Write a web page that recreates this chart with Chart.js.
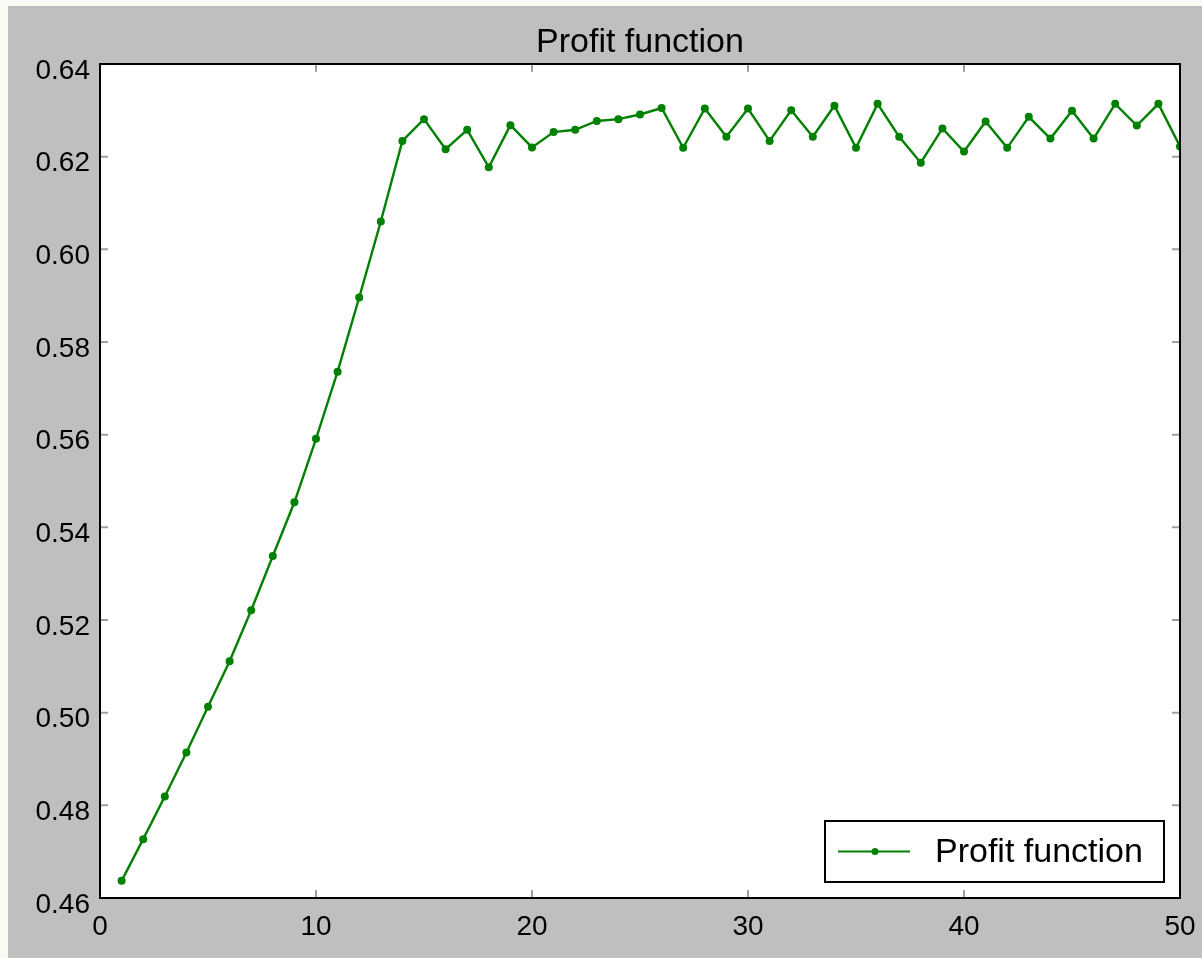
<!DOCTYPE html>
<html>
<head>
<meta charset="utf-8">
<script src="https://cdn.jsdelivr.net/npm/chart.js@4.4.1/dist/chart.umd.min.js"></script>
<style>
  body { margin: 0; background: #fafaf5; }
  #grafico { position: absolute; left: 8px; top: 6px; background: #bfbfbf; }
</style>
</head>
<body>
<canvas id="grafico" width="1194" height="952"></canvas>
<script>
// datos
const titulo = "Profit function"
const iteraciones = [1, 2, 3, 4, 5, 6, 7, 8, 9, 10, 11, 12, 13, 14, 15, 16, 17, 18, 19, 20,
    21, 22, 23, 24, 25, 26, 27, 28, 29, 30, 31, 32, 33, 34, 35, 36, 37, 38, 39, 40,
    41, 42, 43, 44, 45, 46, 47, 48, 49, 50]
const profit = [0.4637, 0.4727, 0.4819, 0.4914, 0.5013, 0.5111, 0.5221, 0.5338, 0.5454, 0.5591,
    0.5736, 0.5896, 0.6060, 0.6234, 0.6281, 0.6216, 0.6258, 0.6177, 0.6268, 0.6220,
    0.6253, 0.6258, 0.6277, 0.6281, 0.6291, 0.6305, 0.6219, 0.6304, 0.6243, 0.6304,
    0.6234, 0.6300, 0.6243, 0.6310, 0.6219, 0.6314, 0.6243, 0.6187, 0.6261, 0.6211,
    0.6276, 0.6219, 0.6286, 0.6239, 0.6299, 0.6239, 0.6314, 0.6267, 0.6314, 0.6222]
const xTicks = [0, 10, 20, 30, 40, 50]
const yTicks = [0.46, 0.48, 0.50, 0.52, 0.54, 0.56, 0.58, 0.60, 0.62, 0.64]

const verde = "#008000"
const fuente = "'Liberation Sans', Arial, Helvetica, sans-serif"

// fondo blanco, marco, ticks hacia adentro, titulo y leyenda
const estiloMatplotlib = {
    id: "estiloMatplotlib",
    beforeDatasetsDraw(chart) {
        const a = chart.chartArea
        const ctx = chart.ctx
        ctx.save()
        ctx.fillStyle = "#ffffff"
        ctx.fillRect(a.left, a.top, a.right - a.left, a.bottom - a.top)
        ctx.restore()
    },
    afterDraw(chart) {
        const a = chart.chartArea
        const ctx = chart.ctx
        const x = chart.scales.x
        const y = chart.scales.y
        ctx.save()

        // ticks
        ctx.strokeStyle = "#a0a0a0"
        ctx.lineWidth = 2
        ctx.beginPath()
        x.ticks.forEach(t => {
            const px = x.getPixelForValue(t.value)
            ctx.moveTo(px, a.bottom); ctx.lineTo(px, a.bottom - 8)
            ctx.moveTo(px, a.top); ctx.lineTo(px, a.top + 8)
        })
        y.ticks.forEach(t => {
            const py = y.getPixelForValue(t.value)
            ctx.moveTo(a.left, py); ctx.lineTo(a.left + 8, py)
            ctx.moveTo(a.right, py); ctx.lineTo(a.right - 8, py)
        })
        ctx.stroke()

        // marco
        ctx.strokeStyle = "#000000"
        ctx.lineWidth = 2
        ctx.strokeRect(a.left, a.top, a.right - a.left, a.bottom - a.top)

        // titulo
        ctx.fillStyle = "#000000"
        ctx.font = "34px " + fuente
        ctx.textAlign = "center"
        ctx.textBaseline = "middle"
        ctx.fillText(titulo, (a.left + a.right) / 2, 37)

        // leyenda
        const ds = chart.data.datasets[0]
        const w = 339, h = 61
        const lx = a.right - 16 - w
        const ly = a.bottom - 16 - h
        const cy = ly + h / 2
        ctx.fillStyle = "#ffffff"
        ctx.fillRect(lx, ly, w, h)
        ctx.strokeStyle = "#000000"
        ctx.lineWidth = 2
        ctx.strokeRect(lx, ly, w, h)
        ctx.strokeStyle = ds.borderColor
        ctx.lineWidth = 2
        ctx.beginPath()
        ctx.moveTo(lx + 13, cy); ctx.lineTo(lx + 85, cy)
        ctx.stroke()
        ctx.fillStyle = ds.borderColor
        ctx.beginPath()
        ctx.arc(lx + 50, cy, 3.5, 0, Math.PI * 2)
        ctx.fill()
        ctx.fillStyle = "#000000"
        ctx.textAlign = "left"
        ctx.fillText(ds.label, lx + 110, cy + 1)

        ctx.restore()
    }
}

new Chart(document.getElementById("grafico"), {
    type: "line",
    data: {
        labels: iteraciones,
        datasets: [{
            label: titulo,
            data: iteraciones.map((it, i) => ({ x: it, y: profit[i] })),
            borderColor: verde,
            backgroundColor: verde,
            borderWidth: 2.4,
            pointRadius: 4,
            pointBorderWidth: 0,
            pointBackgroundColor: verde,
            tension: 0
        }]
    },
    options: {
        responsive: false,
        animation: false,
        devicePixelRatio: 1,
        layout: { padding: { top: 58, right: 22, left: 0, bottom: 0 } },
        plugins: {
            legend: { display: false },
            title: { display: false },
            tooltip: { enabled: false }
        },
        scales: {
            x: {
                type: "linear",
                min: 0,
                max: 50,
                afterBuildTicks: s => { s.ticks = xTicks.map(v => ({ value: v })) },
                afterFit: s => { s.height = 60; s.paddingLeft = 0; s.paddingRight = 0 },
                grid: { display: false, drawTicks: false },
                border: { display: false },
                ticks: {
                    color: "#000000",
                    font: { family: fuente, size: 28 },
                    padding: 12,
                    maxRotation: 0,
                    callback: v => String(v)
                }
            },
            y: {
                type: "linear",
                min: 0.46,
                max: 0.64,
                afterBuildTicks: s => { s.ticks = yTicks.map(v => ({ value: v })) },
                afterFit: s => { s.width = 92; s.paddingTop = 0; s.paddingBottom = 0 },
                grid: { display: false, drawTicks: false },
                border: { display: false },
                ticks: {
                    color: "#000000",
                    font: { family: fuente, size: 28 },
                    padding: 10,
                    labelOffset: 7,
                    callback: v => v.toFixed(2)
                }
            }
        }
    },
    plugins: [estiloMatplotlib]
})
</script>
</body>
</html>
